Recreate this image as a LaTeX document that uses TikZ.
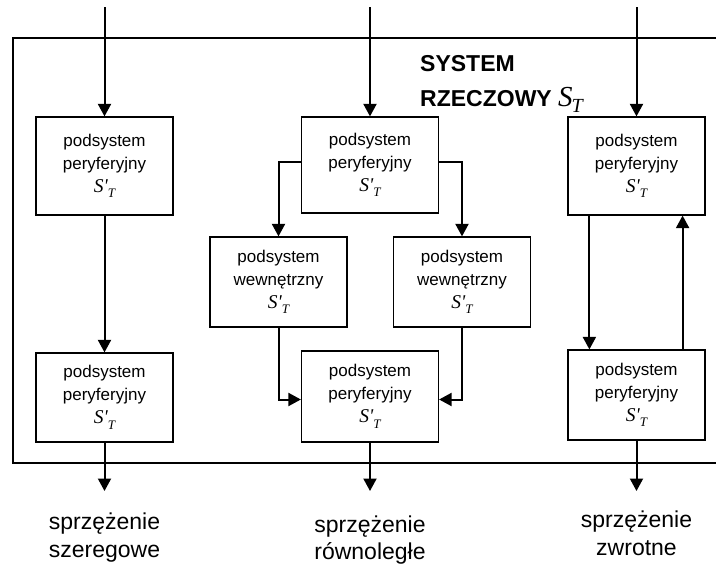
\documentclass[tikz,border=0pt]{standalone}
\usepackage{fontspec}
\setmainfont{Liberation Sans}
\newfontfamily\tnr{Liberation Serif}
\usetikzlibrary{arrows.meta}
% S'_T symbol in the boxes and the large S_T in the title
\newcommand{\subsym}{{\tnr\mdseries\itshape\fontsize{19.5}{23}\selectfont S'\raisebox{-0.28em}{\fontsize{13}{13}\selectfont T}}}
\newcommand{\bigsym}{{\tnr\mdseries\itshape\fontsize{29}{30}\selectfont S\kern-1pt\raisebox{-0.22em}{\fontsize{20}{20}\selectfont T}}}
\begin{document}
\begin{tikzpicture}[x=1pt,y=-1pt,
  box/.style={draw, line width=1.2pt, align=center, inner sep=0pt,
    minimum width=137pt, font=\fontsize{17}{23}\selectfont},
  flow/.style={line width=2pt, -{Triangle[width=13pt,length=12.5pt]}},
  frame/.style={line width=2.8pt},
  lbl/.style={font=\fontsize{23}{28}\selectfont, inner sep=0pt, anchor=base},
  title/.style={font=\bfseries\fontsize{23}{28}\selectfont, inner sep=0pt, anchor=base west}]
\useasboundingbox (0,0) rectangle (716,565);

% outer system frame, open to the right
\draw[frame] (716,38) -- (13,38) -- (13,463) -- (716,463);

\node[title] (sys1) at (420,71) {SYSTEM};
\node[title] (sys2) at (420,106) {RZECZOWY \bigsym};

% serial coupling
\node[box, minimum height=98pt] (L1) at (104.5,166) {podsystem\\peryferyjny\\\subsym};
\node[box, minimum height=89pt] (L2) at (104.5,397.5) {podsystem\\peryferyjny\\\subsym};

% parallel coupling
\node[box, minimum height=96pt] (M1) at (370,165) {podsystem\\peryferyjny\\\subsym};
\node[box, minimum height=90pt] (I1) at (278.5,282) {podsystem\\wewnętrzny\\\subsym};
\node[box, minimum height=90pt] (I2) at (462,282) {podsystem\\wewnętrzny\\\subsym};
\node[box, minimum height=91pt] (M2) at (370,396.5) {podsystem\\peryferyjny\\\subsym};

% feedback coupling
\node[box, minimum height=98pt] (R1) at (636.5,166) {podsystem\\peryferyjny\\\subsym};
\node[box, minimum height=90pt] (R2) at (636.5,395) {podsystem\\peryferyjny\\\subsym};

% inputs and outputs
\coordinate (inL) at (104.5,7);
\coordinate (inM) at (370,7);
\coordinate (inR) at (636.5,7);
\coordinate (outL) at (104.5,491);
\coordinate (outM) at (370,491);
\coordinate (outR) at (636.5,491);

\draw[flow] (inL) -- (L1.north);
\draw[flow] (inM) -- (M1.north);
\draw[flow] (inR) -- (R1.north);

\draw[flow] (L1.south) -- (L2.north);

\draw[flow] ([yshift=3pt]M1.west) -| (I1.north);
\draw[flow] ([yshift=3pt]M1.east) -| (I2.north);
\draw[flow] (I1.south) |- ([yshift=-3pt]M2.west);
\draw[flow] (I2.south) |- ([yshift=-3pt]M2.east);

\draw[flow] ([xshift=22pt]R1.south west) -- ([xshift=22pt]R2.north west);
\draw[flow] ([xshift=-23pt]R2.north east) -- ([xshift=-23pt]R1.south east);

\draw[flow] (L2.south) -- (outL);
\draw[flow] (M2.south) -- (outM);
\draw[flow] (R2.south) -- (outR);

% coupling names
\node[lbl] (tL1) at (104.5,529) {sprzężenie};
\node[lbl] (tL2) at (104.5,557) {szeregowe};
\node[lbl] (tM1) at (370,532) {sprzężenie};
\node[lbl] (tM2) at (370,559) {równoległe};
\node[lbl] (tR1) at (636.5,527) {sprzężenie};
\node[lbl] (tR2) at (636.5,555) {zwrotne};
\end{tikzpicture}
\end{document}
